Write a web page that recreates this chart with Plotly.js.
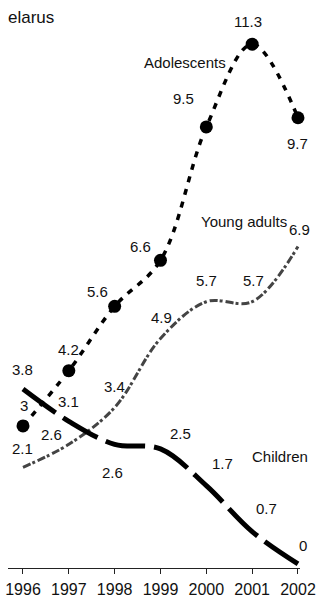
<!DOCTYPE html>
<html>
<head>
<meta charset="utf-8">
<script src="https://cdn.plot.ly/plotly-3.0.1.min.js"></script>
<style>
html,body{margin:0;padding:0;background:#fff;}
#chart{width:323px;height:601px;}
</style>
</head>
<body>
<div id="chart"></div>
<script>
// ---- data ----
var years = [1996, 1997, 1998, 1999, 2000, 2001, 2002];
var tickLabels = ['1996', '1997', '1998', '1999', '2000', '2001', '2002'];
var adolescents = [3, 4.2, 5.6, 6.6, 9.5, 11.3, 9.7];
var youngAdults = [2.1, 2.6, 3.4, 4.9, 5.7, 5.7, 6.9];
var children = [3.8, 3.1, 2.6, 2.5, 1.7, 0.7, 0];
var seriesNames = ['Adolescents', 'Young adults', 'Children'];
var titleText = 'elarus';

// ---- label offsets (pixels, relative to each point) ----
var adolOffsets = [[1,20],[0,21],[-17,15],[-20,14],[-23,28],[-4,23],[0,-26]];
var youngOffsets = [[0,19],[-17,10],[0,21],[1,21],[0,21],[1,21],[2,17]];
var childOffsets = [[0,20],[0,20],[-2,-28],[20,15],[16,22],[14,23],[5,18]];

var font = 'Liberation Sans, Arial, Helvetica, sans-serif';

var traces = [
  {
    x: years, y: youngAdults, type: 'scatter', mode: 'lines', name: seriesNames[1],
    line: {color: '#444', width: 3, shape: 'spline', smoothing: 1, dash: '8px,2px,3px,3px'},
    hoverinfo: 'skip'
  },
  {
    x: years, y: children, type: 'scatter', mode: 'lines', name: seriesNames[2],
    line: {color: '#000', width: 5, shape: 'spline', smoothing: 1, dash: '40px,9px'},
    hoverinfo: 'skip'
  },
  {
    x: years, y: adolescents, type: 'scatter', mode: 'lines+markers', name: seriesNames[0],
    line: {color: '#000', width: 3.5, shape: 'spline', smoothing: 1, dash: '6px,7px'},
    marker: {color: '#000', size: 13},
    hoverinfo: 'skip', cliponaxis: false
  }
];

var annotations = [];
function addLabels(vals, offs) {
  for (var i = 0; i < years.length; i++) {
    annotations.push({
      x: years[i], y: vals[i], xref: 'x', yref: 'y',
      text: String(vals[i]), showarrow: false,
      xshift: offs[i][0], yshift: offs[i][1],
      xanchor: 'center', yanchor: 'middle',
      font: {family: font, size: 15, color: '#111'}
    });
  }
}
addLabels(adolescents, adolOffsets);
addLabels(youngAdults, youngOffsets);
addLabels(children, childOffsets);

// series names placed next to their lines
annotations.push({x: 2000.8, y: adolescents[5], xref: 'x', yref: 'y', text: seriesNames[0],
  showarrow: false, xanchor: 'right', yanchor: 'middle', xshift: -15, yshift: -18,
  font: {family: font, size: 15, color: '#111'}});
annotations.push({x: 2002, y: youngAdults[6], xref: 'x', yref: 'y', text: seriesNames[1],
  showarrow: false, xanchor: 'right', yanchor: 'middle', xshift: -9, yshift: 25,
  font: {family: font, size: 15, color: '#111'}});
annotations.push({x: 2002, y: children[3], xref: 'x', yref: 'y', text: seriesNames[2],
  showarrow: false, xanchor: 'right', yanchor: 'middle', xshift: 12, yshift: -8,
  font: {family: font, size: 15, color: '#111'}});

var layout = {
  width: 323, height: 601,
  margin: {l: 8, r: 23, t: 12, b: 33, pad: 0},
  paper_bgcolor: '#fff', plot_bgcolor: '#fff',
  showlegend: false,
  title: {text: titleText, x: 8/323, xref: 'container', xanchor: 'left',
    y: 1 - 17/601, yref: 'container', yanchor: 'middle',
    font: {family: font, size: 17, color: '#111'}},
  xaxis: {
    range: [1995.673, 2002.044], tickvals: years, ticktext: tickLabels,
    showgrid: false, zeroline: false, showline: true, linecolor: '#222', linewidth: 1,
    ticks: 'outside', ticklen: 5, tickcolor: '#222', tickwidth: 1, ticklabelstandoff: 2,
    tickfont: {family: font, size: 16, color: '#111'}, fixedrange: true
  },
  yaxis: {
    range: [-0.09, 12], visible: false, showgrid: false, zeroline: false, fixedrange: true
  },
  annotations: annotations
};

Plotly.newPlot('chart', traces, layout, {displayModeBar: false, staticPlot: true});
</script>
</body>
</html>
